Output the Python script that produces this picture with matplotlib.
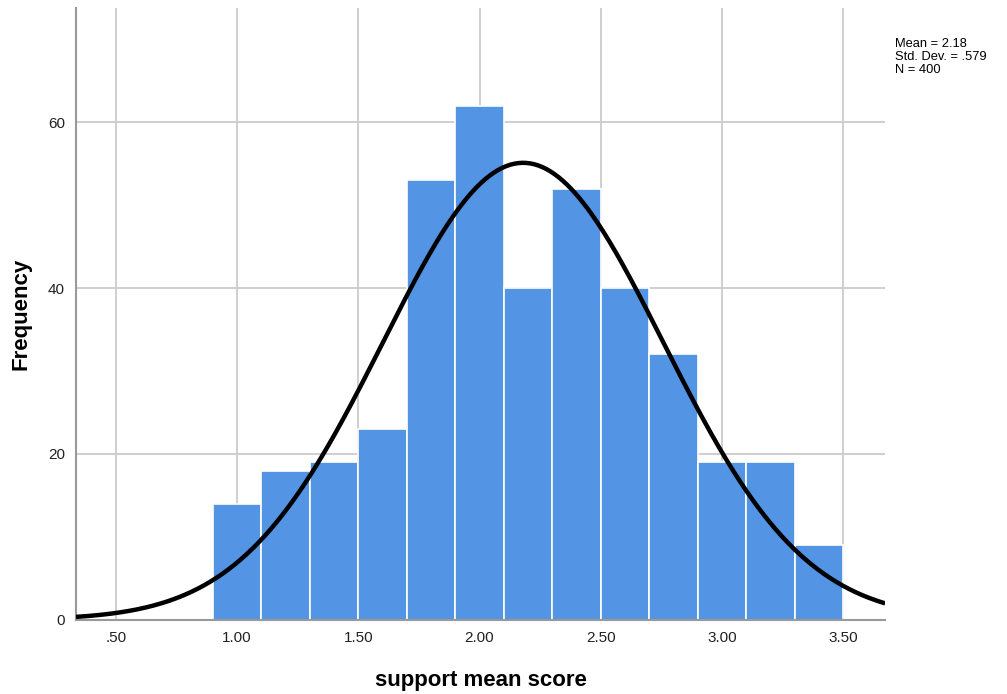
import matplotlib

matplotlib.use("Agg")
import matplotlib.pyplot as plt
import numpy as np

# Histogram of support mean score, bin width 0.2
bin_edges = [0.9, 1.1, 1.3, 1.5, 1.7, 1.9, 2.1, 2.3, 2.5, 2.7, 2.9, 3.1, 3.3, 3.5]
counts = [14, 18, 19, 23, 53, 62, 40, 52, 40, 32, 19, 19, 9]
mean, std_dev, n = 2.18, 0.579, 400

x_ticks = [0.5, 1.0, 1.5, 2.0, 2.5, 3.0, 3.5]
x_tick_labels = [".50", "1.00", "1.50", "2.00", "2.50", "3.00", "3.50"]
y_ticks = [0, 20, 40, 60]

plt.rcParams["font.family"] = ["Liberation Sans", "DejaVu Sans"]

fig = plt.figure(figsize=(10.07, 6.94), dpi=100)
ax = fig.add_axes([0.0755, 0.107, 0.8035, 0.8815])

edges = np.array(bin_edges)
widths = np.diff(edges)
ax.bar(edges[:-1], counts, width=widths, align="edge", color="#5394e4",
       edgecolor="white", linewidth=1.2, zorder=2)

# normal curve scaled to counts per bin
xs = np.linspace(0.335, 3.674, 400)
bw = widths[0]
curve = n * bw / (std_dev * np.sqrt(2 * np.pi)) * np.exp(-0.5 * ((xs - mean) / std_dev) ** 2)
ax.plot(xs, curve, color="black", lw=3.2, zorder=3, solid_capstyle="butt")

ax.set_xlim(0.335, 3.674)
ax.set_ylim(0, 73.8)
ax.set_xticks(x_ticks)
ax.set_xticklabels(x_tick_labels)
ax.set_yticks(y_ticks)
ax.tick_params(length=0, labelsize=11, colors="#222222", pad=8)
ax.grid(True, color="#cccccc", lw=1.3, zorder=0)
ax.set_axisbelow(True)
for side in ("top", "right"):
    ax.spines[side].set_visible(False)
for side in ("left", "bottom"):
    ax.spines[side].set_color("#999999")
    ax.spines[side].set_linewidth(1.5)

ax.set_xlabel("support mean score", fontsize=16, fontweight="bold", labelpad=18)
ax.set_ylabel("Frequency", fontsize=16, fontweight="bold", labelpad=12)

fig.text(0.889, 0.945, f"Mean = {mean:.2f}\nStd. Dev. = .579\nN = {n}",
         fontsize=9.3, va="top", ha="left", linespacing=1.12)

fig.savefig("out.png", dpi=100)
